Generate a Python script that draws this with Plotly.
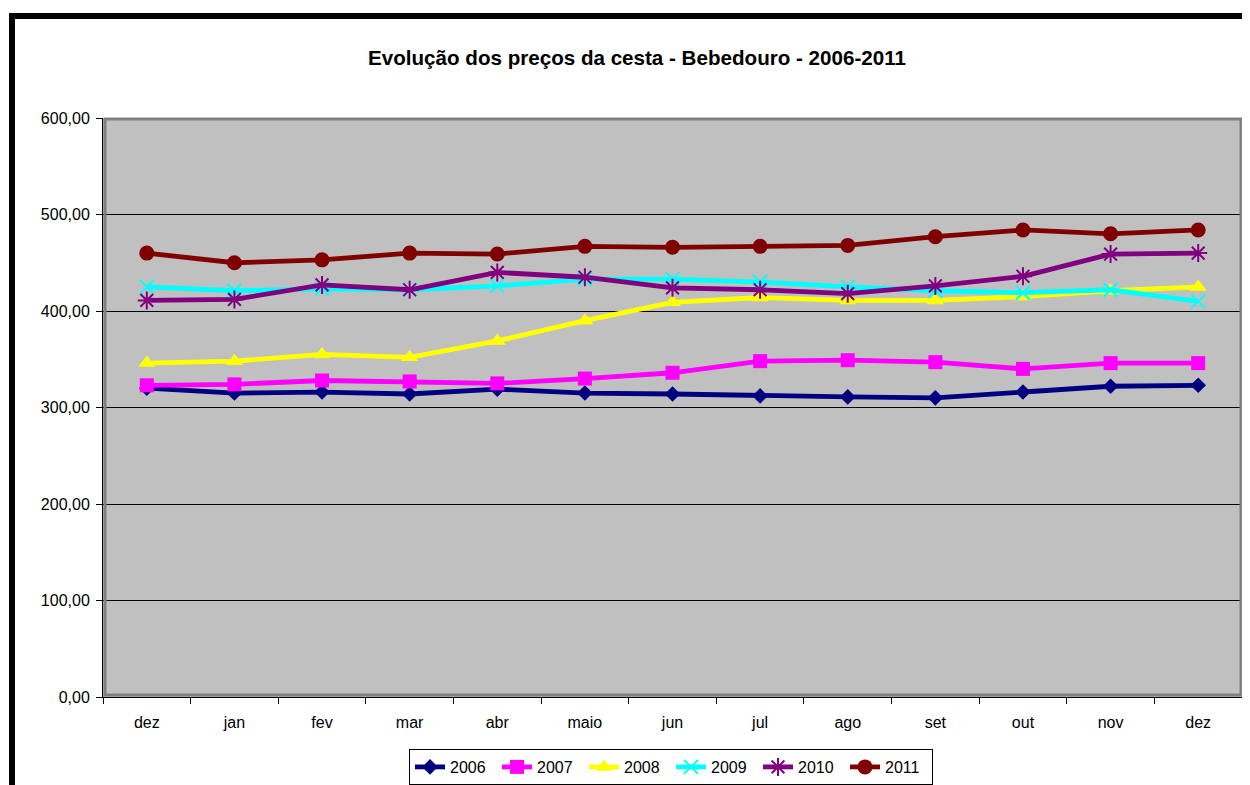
import plotly.graph_objects as go

months = ["dez", "jan", "fev", "mar", "abr", "maio", "jun", "jul", "ago", "set", "out", "nov", "dez"]
x_idx = list(range(len(months)))

s2006 = [320, 315, 316, 314, 319, 315, 314, 312, 311, 310, 316, 322, 323]
s2007 = [323, 324, 328, 327, 325, 330, 336, 348, 349, 347, 340, 346, 346]
s2008 = [346, 348, 355, 352, 369, 390, 409, 414, 411, 411, 415, 421, 425]
s2009 = [425, 421, 423, 422, 426, 433, 433, 430, 425, 421, 419, 422, 410]
s2010 = [411, 412, 427, 422, 440, 435, 424, 422, 418, 426, 436, 459, 460]
s2011 = [460, 450, 453, 460, 459, 467, 466, 467, 468, 477, 484, 480, 484]

y_ticks = [0, 100, 200, 300, 400, 500, 600]
y_ticktext = ["0,00", "100,00", "200,00", "300,00", "400,00", "500,00", "600,00"]

series = [
    ("2006", s2006, "#000080", "diamond", 12),
    ("2007", s2007, "#FF00FF", "square", 14),
    ("2008", s2008, "#FFFF00", "triangle-up", 15),
    ("2009", s2009, "#00FFFF", "x-thin-open", 14),
    ("2010", s2010, "#800080", "asterisk-open", 15),
    ("2011", s2011, "#800000", "circle", 15),
]

fig = go.Figure()
for name, vals, color, sym, size in series:
    open_sym = sym.endswith("open")
    fig.add_trace(go.Scatter(
        x=x_idx, y=vals, name=name, mode="lines+markers",
        line=dict(color=color, width=4.8),
        marker=dict(symbol=sym, size=size, color=color,
                    line=dict(color=color, width=2 if open_sym else 0)),
    ))

# page body adds an 8px offset; work in reference-page pixels and subtract it
O = 8
FW, FH = 1250 - O, 785 - O
L, R, T, B = 103, 1242, 118, 697
W, H = R - L, B - T

def px(xp):
    return (xp - L) / W

def py(yp):
    return (B - yp) / H

fig.update_layout(
    width=FW, height=FH,
    margin=dict(l=L - O, r=FW - (R - O), t=T - O, b=FH - (B - O), autoexpand=False),
    paper_bgcolor="white",
    plot_bgcolor="#C0C0C0",
    font=dict(family="Arial, Liberation Sans, sans-serif", size=16, color="black"),
    title=dict(
        text="<b>Evolução dos preços da cesta - Bebedouro - 2006-2011</b>",
        x=(637 - O) / FW, xanchor="center", xref="container",
        y=1 - (58 - O) / FH, yanchor="middle", yref="container",
        font=dict(size=20.6, color="black"),
    ),
    showlegend=True,
    legend=dict(
        orientation="h", x=px(671), xanchor="center",
        y=py(749), yanchor="top",
        bordercolor="black", borderwidth=1, bgcolor="white",
        font=dict(size=16),
        itemwidth=30,
        entrywidth=42,
    ),
    xaxis=dict(
        range=[-0.5, 12.5],
        tickmode="array", tickvals=x_idx, ticktext=months,
        ticks="", showgrid=False, zeroline=False,
        ticklabelstandoff=11,
        showline=True, linecolor="black", linewidth=1,
        minor=dict(tick0=-0.5, dtick=1, ticks="outside", ticklen=6,
                   tickcolor="black", showgrid=False),
        fixedrange=True,
    ),
    yaxis=dict(
        range=[0, 600],
        tickmode="array", tickvals=y_ticks, ticktext=y_ticktext,
        ticks="outside", ticklen=6, tickcolor="black",
        ticklabelstandoff=3,
        showgrid=True, gridcolor="black", gridwidth=1,
        zeroline=False,
        showline=True, linecolor="black", linewidth=1,
        fixedrange=True,
    ),
    shapes=[
        dict(type="rect", xref="paper", yref="paper",
             x0=px(L + 2), x1=px(R - 1), y0=py(B - 2), y1=py(T + 1),
             line=dict(color="#808080", width=3), layer="above"),
        dict(type="rect", xref="paper", yref="paper",
             x0=px(12), x1=px(1300), y0=py(840), y1=py(16),
             line=dict(color="black", width=6), layer="above"),
    ],
)

fig.write_html("out.html")
